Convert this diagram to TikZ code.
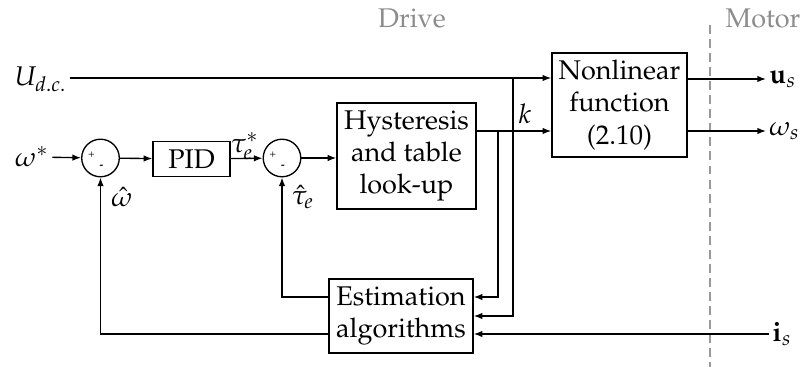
\documentclass[tikz,border=0pt]{standalone}
\usepackage[T1]{fontenc}
\usepackage{mathpazo}
\usetikzlibrary{arrows.meta,calc}
\begin{document}
\begin{tikzpicture}[x=0.37pt,y=-0.37pt,
  line width=0.5pt,
  arr/.style={-{Latex[length=3.2pt,width=2.4pt]}},
  blk/.style={draw,align=center,inner sep=0pt},
  sumc/.style={draw,circle,minimum size=13.9pt,inner sep=0pt},
  sgn/.style={font=\fontsize{4}{4}\selectfont,inner sep=0pt},
  lbl/.style={inner sep=1pt},
  graytxt/.style={text=black!45}]
\useasboundingbox (0,0) rectangle (806,367);
% headers
\node[graytxt] (drive) at (412,18) {Drive};
\node[graytxt] (motor) at (763,18) {Motor};
\coordinate (dtop) at (710,25);
\coordinate (dbot) at (710,367);
\draw[black!40,dash pattern=on 3.3pt off 1.9pt] (dtop) -- (dbot);
% blocks
\node[blk,minimum width=50pt,minimum height=38.5pt] (nl) at (619.5,105) {Nonlinear\\function\\(2.10)};
\node[blk,minimum width=51.4pt,minimum height=39.2pt] (hy) at (406.5,156) {Hysteresis\\and table\\look-up};
\node[blk,minimum width=28.5pt,minimum height=13pt] (pid) at (191.5,159) {PID};
\node[blk,minimum width=53.3pt,minimum height=27.4pt] (est) at (401,316) {Estimation\\algorithms};
\node[sumc] (s1) at (100.5,158) {};
\node[sumc] (s2) at (282,158) {};
\node[sgn] (p1) at ($(s1)+(-9,-3)$) {+};
\node[sgn] (m1) at ($(s1)+(1,9)$) {\textbf{-}};
\node[sgn] (p2) at ($(s2)+(-9,-3)$) {+};
\node[sgn] (m2) at ($(s2)+(1,9)$) {\textbf{-}};
% labels
\node[lbl,anchor=east] (udc) at (70,79) {$U_{d.c.}$};
\node[lbl] (ws) at (32,157) {$\omega^*$};
\node[lbl] (tes) at (245,146) {$\tau_e^*$};
\node[lbl] (wh) at (122,197) {$\hat{\omega}$};
\node[lbl] (teh) at (303,197) {$\hat{\tau}_e$};
\node[lbl] (k) at (525,114) {$k$};
\node[lbl,anchor=west] (us) at (766,79) {$\mathbf{u}_s$};
\node[lbl,anchor=west] (wout) at (766,131) {$\omega_s$};
\node[lbl,anchor=west] (is) at (769,334) {$\mathbf{i}_s$};
% junction coordinates
\coordinate (ju) at (513,78);
\coordinate (jk) at (498,131);
\coordinate (ey1) at (0,297);
\coordinate (ey2) at (0,316);
\coordinate (ey3) at (0,334);
% connectors
\draw[arr] (udc.east |- ju) -- (nl.west |- ju);
\draw[arr] (hy.east |- jk) -- (nl.west |- jk);
\draw[arr] (nl.east |- us) -- (us.west);
\draw[arr] (nl.east |- wout) -- (wout.west);
\draw[arr] (ws) -- (s1);
\draw[arr] (s1) -- (pid);
\draw[arr] (pid) -- (s2);
\draw[arr] (s2) -- (hy.west |- s2);
\draw[arr] (jk) |- (est.east |- ey1);
\draw[arr] (ju) |- (est.east |- ey2);
\draw[arr] (is.west) -- (est.east |- is);
\draw[arr] (est.west |- ey3) -| (s1.south);
\draw[arr] (est.west |- ey1) -| (s2.south);
\end{tikzpicture}
\end{document}
